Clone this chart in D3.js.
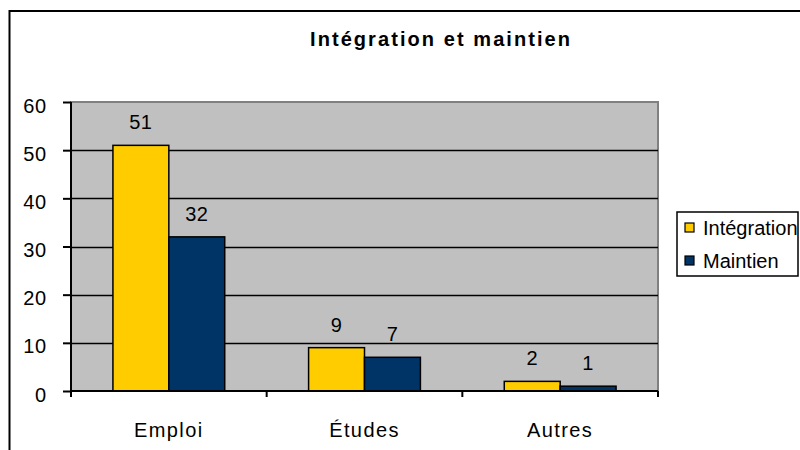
<!DOCTYPE html>
<html>
<head>
<meta charset="utf-8">
<script src="https://cdn.jsdelivr.net/npm/d3@7"></script>
<style>
  body { margin: 0; background: #fff; }
  svg text { font-family: "Liberation Sans", Arial, sans-serif; fill: #000; }
</style>
</head>
<body>
<script>
// data
let categories = ["Emploi", "Études", "Autres"];
let seriesNames = ["Intégration", "Maintien"];
let integration = [51, 9, 2];
let maintien = [32, 7, 1];
let yTicks = [0, 10, 20, 30, 40, 50, 60];

let colors = ["#FFCC00", "#003366"];

let w = 800, h = 450;
let plot = {left: 71, right: 658, top: 102, bottom: 391};

let svg = d3.select("body").append("svg")
  .attr("width", w)
  .attr("height", h);

// outer chart frame (runs off the right and bottom of the picture)
svg.append("rect")
  .attr("x", 9.5).attr("y", 11)
  .attr("width", 820).attr("height", 460)
  .attr("fill", "#fff")
  .attr("stroke", "#000")
  .attr("stroke-width", 2);

let x0 = d3.scaleBand()
  .domain(categories)
  .range([plot.left, plot.right]);

let x1 = d3.scaleBand()
  .domain(seriesNames)
  .range([0, x0.bandwidth()])
  .paddingOuter(0.75);

let y = d3.scaleLinear()
  .domain([0, 60])
  .range([plot.bottom, plot.top]);

// plot background
svg.append("rect")
  .attr("x", plot.left).attr("y", plot.top)
  .attr("width", plot.right - plot.left)
  .attr("height", plot.bottom - plot.top)
  .attr("fill", "#C0C0C0")
  .attr("stroke", "#808080")
  .attr("stroke-width", 2);

// gridlines
svg.append("g")
  .selectAll("line")
  .data(yTicks.filter(d => d > 0 && d < 60))
  .enter().append("line")
  .attr("x1", plot.left).attr("x2", plot.right)
  .attr("y1", d => Math.round(y(d)) + 0.5)
  .attr("y2", d => Math.round(y(d)) + 0.5)
  .attr("stroke", "#000")
  .attr("stroke-width", 1.5);

// bars
let rows = categories.map((c, i) => ({cat: c, vals: [integration[i], maintien[i]]}));

let groups = svg.append("g")
  .selectAll("g")
  .data(rows)
  .enter().append("g")
  .attr("transform", d => "translate(" + x0(d.cat) + ",0)");

groups.selectAll("rect")
  .data(d => d.vals.map((v, k) => ({name: seriesNames[k], v: v, k: k})))
  .enter().append("rect")
  .attr("x", d => x1(d.name))
  .attr("y", d => y(d.v))
  .attr("width", x1.bandwidth())
  .attr("height", d => y(0) - y(d.v))
  .attr("fill", d => colors[d.k])
  .attr("stroke", "#000")
  .attr("stroke-width", 1.5);

groups.selectAll("text")
  .data(d => d.vals.map((v, k) => ({name: seriesNames[k], v: v})))
  .enter().append("text")
  .attr("x", d => x1(d.name) + x1.bandwidth() / 2)
  .attr("y", d => y(d.v) - 16)
  .attr("text-anchor", "middle")
  .attr("font-size", 20)
  .attr("letter-spacing", 0.5)
  .text(d => d.v);

// y axis
let yAxis = d3.axisLeft(y)
  .tickValues(yTicks)
  .tickSize(8)
  .tickPadding(16)
  .tickFormat(d3.format("d"));

let gy = svg.append("g")
  .attr("transform", "translate(" + plot.left + ",0)")
  .call(yAxis);
gy.select(".domain").attr("stroke", "#000").attr("stroke-width", 2)
  .attr("d", "M0," + plot.top + "V" + (plot.bottom + 6));
gy.selectAll(".tick line").attr("stroke", "#000").attr("stroke-width", 2);
gy.selectAll(".tick text")
  .attr("font-size", 20)
  .attr("letter-spacing", 0.8)
  .attr("font-family", "Liberation Sans, Arial, sans-serif")
  .attr("dy", "0.5em");

// x axis: ticks at the category boundaries
let gx = svg.append("g")
  .attr("transform", "translate(0," + plot.bottom + ")");
gx.append("line")
  .attr("x1", plot.left).attr("x2", plot.right)
  .attr("stroke", "#000").attr("stroke-width", 2);
gx.selectAll(".bound")
  .data(categories)
  .enter().append("line")
  .attr("class", "bound")
  .attr("x1", d => x0(d) + x0.bandwidth())
  .attr("x2", d => x0(d) + x0.bandwidth())
  .attr("y1", 0).attr("y2", 6)
  .attr("stroke", "#000").attr("stroke-width", 2);
gx.selectAll(".cat")
  .data(categories)
  .enter().append("text")
  .attr("class", "cat")
  .attr("x", d => x0(d) + x0.bandwidth() / 2)
  .attr("y", 46)
  .attr("text-anchor", "middle")
  .attr("font-size", 20)
  .attr("letter-spacing", 1.4)
  .text(d => d);

// title
svg.append("text")
  .attr("x", 440).attr("y", 46)
  .attr("text-anchor", "middle")
  .attr("font-size", 20)
  .attr("font-weight", "bold")
  .attr("textLength", 260)
  .attr("lengthAdjust", "spacing")
  .text("Intégration et maintien");

// legend (text is clipped by the box, as in the original)
let legW = 121, legH = 64;
svg.append("clipPath").attr("id", "legclip")
  .append("rect").attr("width", legW).attr("height", legH);

let lg = svg.append("g").attr("transform", "translate(677,212)");
lg.append("rect")
  .attr("x", 0).attr("y", 0)
  .attr("width", legW).attr("height", legH)
  .attr("fill", "#fff");

let items = lg.append("g")
  .attr("clip-path", "url(#legclip)")
  .selectAll(".item")
  .data(seriesNames)
  .enter().append("g")
  .attr("class", "item")
  .attr("transform", (d, i) => "translate(0," + (i * 33) + ")");
items.append("rect")
  .attr("x", 8).attr("y", 11)
  .attr("width", 9).attr("height", 9)
  .attr("fill", (d, i) => colors[i])
  .attr("stroke", "#000")
  .attr("stroke-width", 1.2);
items.append("text")
  .attr("x", 26).attr("y", 23)
  .attr("font-size", 20)
  .text(d => d);

lg.append("rect")
  .attr("x", 0).attr("y", 0)
  .attr("width", legW).attr("height", legH)
  .attr("fill", "none")
  .attr("stroke", "#000")
  .attr("stroke-width", 1.5);
</script>
</body>
</html>
